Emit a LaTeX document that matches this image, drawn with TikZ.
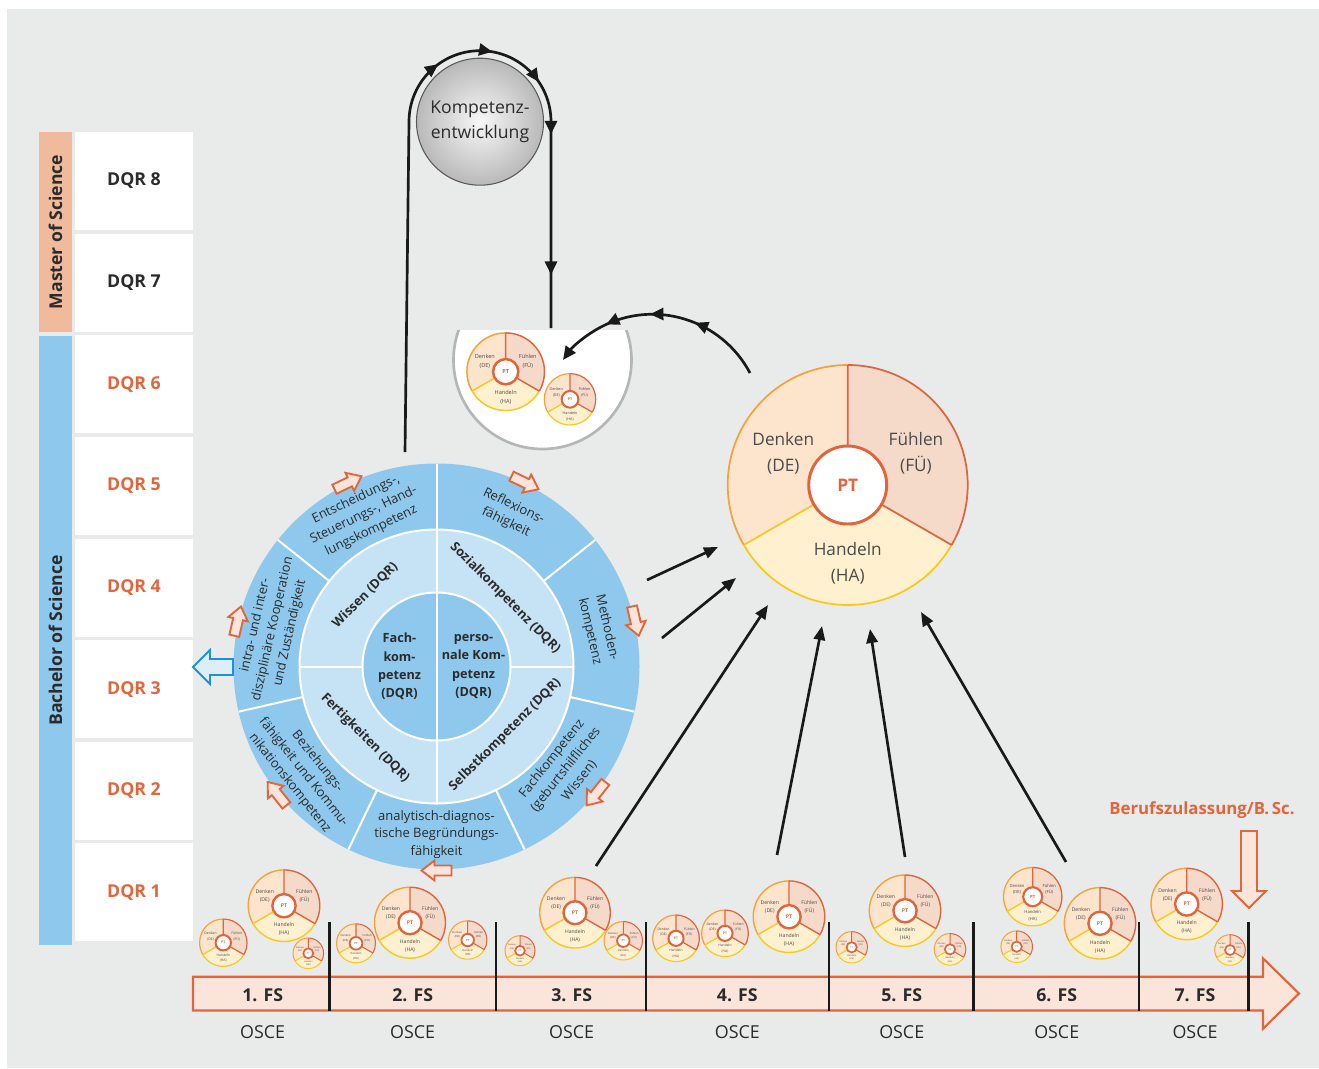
\documentclass[tikz,border=0pt]{standalone}
\usepackage{fontspec}
\setmainfont{Open Sans}
\usetikzlibrary{arrows.meta,decorations.markings,calc}

\definecolor{bggrey}{HTML}{E9EAEA}
\definecolor{ringblue}{HTML}{8EC9ED}
\definecolor{midblue}{HTML}{C6E3F6}
\definecolor{dqrorange}{HTML}{E2653C}
\definecolor{mastersalmon}{HTML}{F0BB9C}
\definecolor{denfill}{HTML}{FDE4CD}
\definecolor{fuefill}{HTML}{F5D9C9}
\definecolor{hafill}{HTML}{FFF0CF}
\definecolor{denline}{HTML}{F4A23A}
\definecolor{haline}{HTML}{F8C81E}
\definecolor{fueline}{HTML}{E0643C}
\definecolor{arrowpink}{HTML}{FBE4DA}
\definecolor{bluearrow}{HTML}{1A94D8}
\definecolor{bluefill}{HTML}{DDEEFA}
\definecolor{bowlgrey}{HTML}{B5B6B8}
\definecolor{textdark}{HTML}{2B2B2B}

\newcommand\hollowarr[7]{%
  \draw[#7, shift={(#1)}, rotate=#2] (-#3,-#4) -- ({#3-#6},-#4) -- ({#3-#6},-#5) -- (#3,0)
    -- ({#3-#6},#5) -- ({#3-#6},#4) -- (-#3,#4) -- cycle;}

\tikzset{
  pttext/.style={align=center, font=\fontsize{12.9}{20}\selectfont, text=textdark!85, transform shape, inner sep=0pt},
  pics/ptw/.style={code={
    \fill[denfill] (0,0) -- (-90:120) arc[start angle=-90,end angle=-210,radius=120] -- cycle;
    \fill[fuefill] (0,0) -- (-90:120) arc[start angle=-90,end angle=30,radius=120] -- cycle;
    \fill[hafill] (0,0) -- (30:120) arc[start angle=30,end angle=150,radius=120] -- cycle;
    \draw[denline,line width=#1] (-90:120) arc[start angle=-90,end angle=-210,radius=120];
    \draw[fueline,line width=#1] (-90:120) arc[start angle=-90,end angle=30,radius=120];
    \draw[haline,line width=#1] (30:120) arc[start angle=30,end angle=150,radius=120];
    \draw[fueline,line width=#1] (0,-39) -- (0,-120) (30:39) -- (30:120);
    \draw[haline,line width=#1] (150:39) -- (150:120);
    \draw[fueline,line width=1.7*#1,fill=white] (0,0) circle (39);
    \node[pttext] (-de) at (-64.4,-31.7) {Denken\\(DE)};
    \node[pttext] (-fu) at (68.3,-31.7) {Fühlen\\(FÜ)};
    \node[pttext] (-ha) at (0,78.3) {Handeln\\(HA)};
    \node[transform shape, inner sep=0pt, text=fueline, font=\bfseries\fontsize{13}{13}\selectfont] (-pt) at (0,0) {PT};
  }}
}

\begin{document}
\begin{tikzpicture}[x=0.75pt,y=-0.75pt,
  dqrbox/.style={fill=white, minimum width=88.5pt, minimum height=73.5pt, inner sep=0pt, font=\bfseries\fontsize{13.3}{16}\selectfont},
  levelbar/.style={minimum height=24.75pt, inner sep=0pt, font=\bfseries\fontsize{13.2}{16}\selectfont, text=textdark, rotate=90},
  ringtext/.style={align=center, font=\fontsize{9.75}{13.2}\selectfont, text=textdark, inner sep=0pt},
  midtext/.style={align=center, font=\bfseries\fontsize{9.7}{12}\selectfont, text=textdark, inner sep=0pt},
  coretext/.style={align=center, font=\bfseries\fontsize{9.5}{13.75}\selectfont, text=textdark, inner sep=0pt},
  fslabel/.style={font=\bfseries\fontsize{13.3}{16}\selectfont, text=textdark, inner sep=0pt},
  oscelabel/.style={font=\fontsize{13.4}{16}\selectfont, text=textdark, inner sep=0pt},
  blackarrow/.style={line width=2pt, draw=black!90, -{Triangle[length=10.5pt,width=8.5pt]}},
  loopline/.style={line width=2pt, draw=black!90},
  orangearrow/.style={draw=dqrorange, fill=arrowpink, line width=1.4pt},
  wheelline/.style={white, line width=1.5pt}
]
\useasboundingbox (0,0) rectangle (1319,1068);
\fill[white] (0,0) rectangle (1319,1068);
\fill[bggrey] (7,9) rectangle (1319,1068);

% ---------- left column ----------
\node[levelbar, fill=mastersalmon, minimum width=150pt] (msc) at (55.5,232) {Master of Science};
\node[levelbar, fill=ringblue, minimum width=456.75pt] (bsc) at (55.5,640.5) {Bachelor of Science};
\node[dqrbox, text=textdark] (d8) at (134,181) {DQR 8};
\node[dqrbox, text=textdark] (d7) at (134,282.6) {DQR 7};
\node[dqrbox, text=dqrorange] (d6) at (134,384.25) {DQR 6};
\node[dqrbox, text=dqrorange] (d5) at (134,485.9) {DQR 5};
\node[dqrbox, text=dqrorange] (d4) at (134,587.5) {DQR 4};
\node[dqrbox, text=dqrorange] (d3) at (134,689.1) {DQR 3};
\node[dqrbox, text=dqrorange] (d2) at (134,790.75) {DQR 2};
\node[dqrbox, text=dqrorange] (d1) at (134,892.4) {DQR 1};

% ---------- competence wheel ----------
\coordinate (W) at (436.5,666.5);
\fill[ringblue] (W) circle (203);
\fill[midblue] (W) circle (137);
\fill[ringblue] (W) circle (74);
\draw[wheelline] (W) circle (137) (W) circle (74);
\foreach \k in {0,...,6}{
  \pgfmathsetmacro\ang{90+51.4286*\k}
  \draw[wheelline] ($(W)+(-\ang:137)$) -- ($(W)+(-\ang:203)$);
}
\draw[wheelline] ($(W)+(0,-137)$) -- ($(W)+(0,137)$);
\draw[wheelline] ($(W)+(-137,0)$) -- ($(W)+(-74,0)$) ($(W)+(74,0)$) -- ($(W)+(137,0)$);

\node[ringtext, rotate=25.71] (rt1) at ($(W)+(-115.71:168)$) {Entscheidungs-,\\Steuerungs-, Hand-\\lungskompetenz};
\node[ringtext, rotate=77.14] (rt2) at ($(W)+(-167.14:168)$) {intra- und inter-\\disziplinäre Kooperation\\und Zuständigkeit};
\node[ringtext, rotate=-51.43] (rt3) at ($(W)+(-218.57:170)$) {Beziehungs-\\fähigkeit und Kommu-\\nikationskompetenz};
\node[ringtext] (rt4) at ($(W)+(-270:168)$) {analytisch-diagnos-\\tische Begründungs-\\fähigkeit};
\node[ringtext, rotate=51.43] (rt5) at ($(W)+(-321.43:165)$) {Fachkompetenz\\(geburtshilfliches\\Wissen)};
\node[ringtext, rotate=-77.14] (rt6) at ($(W)+(-12.86:166)$) {Methoden-\\kompetenz};
\node[ringtext, rotate=-25.71] (rt7) at ($(W)+(-64.29:169)$) {Reflexions-\\fähigkeit};

\node[midtext, rotate=45] (mt1) at ($(W)+(-135:101)$) {Wissen (DQR)};
\node[midtext, rotate=-45] (mt2) at ($(W)+(-45:97)$) {Sozialkompetenz (DQR)};
\node[midtext, rotate=-45] (mt3) at ($(W)+(-225:101)$) {Fertigkeiten (DQR)};
\node[midtext, rotate=45] (mt4) at ($(W)+(-315:97)$) {Selbstkompetenz (DQR)};

\node[coretext] (core1) at ($(W)+(-37,0)$) {Fach-\\kom-\\petenz\\(DQR)};
\node[coretext] (core2) at ($(W)+(37,0)$) {perso-\\nale Kom-\\petenz\\(DQR)};

\foreach \k in {0,...,6}{
  \pgfmathsetmacro\ang{115.714+51.4286*\k}
  \coordinate (wa\k) at ($(W)+(-\ang:204)$);
  \hollowarr{wa\k}{\ang-90}{15}{5}{10}{13}{orangearrow}
}
\coordinate (blueA) at (213,667);
\hollowarr{blueA}{180}{20}{8}{17}{17}{draw=bluearrow, fill=bluefill, line width=1.4pt}

% ---------- Kompetenzentwicklung loop ----------
\coordinate (loopstart) at (405,452);
\coordinate (loopend) at (551,328);
\draw[loopline,
  decoration={markings,
    mark=at position 0.523 with {\arrow{Triangle[length=10pt,width=9pt]}},
    mark=at position 0.598 with {\arrow{Triangle[length=10pt,width=9pt]}},
    mark=at position 0.673 with {\arrow{Triangle[length=10pt,width=9pt]}},
    mark=at position 0.745 with {\arrow{Triangle[length=10pt,width=9pt]}},
    mark=at position 0.93 with {\arrow{Triangle[length=10pt,width=9pt]}}},
  postaction={decorate}]
  (loopstart) -- (409,121.7) arc[start angle=180,end angle=360,radius=71] -- (loopend);
\node[circle, minimum size=95.25pt, inner sep=0pt, shading=radial, inner color=gray!6, outer color=gray!55,
  draw=black!65, line width=0.8pt, align=center, text=textdark,
  font=\fontsize{13.2}{19}\selectfont] (ball) at (480,121.7) {Kompetenz-\\entwicklung};

% ---------- bowl ----------
\begin{scope}
  \clip (420,330) rectangle (680,470);
  \draw[bowlgrey, line width=2pt, fill=white] (542.5,360) circle (89);
\end{scope}
\pic[scale=38.8/120] (bowlA) at (505.7,371.7) {ptw=1.1pt};
\pic[scale=25.7/120] (bowlB) at (570,399.3) {ptw=0.9pt};

\coordinate (arcstart) at (750,373);
\draw[loopline, -{Triangle[length=10pt,width=9pt]},
  decoration={markings,
    mark=at position 0.34 with {\arrow{Triangle[length=10pt,width=9pt]}},
    mark=at position 0.545 with {\arrow{Triangle[length=10pt,width=9pt]}},
    mark=at position 0.748 with {\arrow{Triangle[length=10pt,width=9pt]}}},
  postaction={decorate}]
  (arcstart) arc[start angle=-27.9,end angle=-144.1,radius=110.4];

% ---------- big PT wheel ----------
\pic (bigpt) at (847.7,485) {ptw=1.3pt};

% ---------- black arrows ----------
\coordinate (s1) at (647,580);  \coordinate (e1) at (718,547);
\coordinate (s2) at (662,638);  \coordinate (e2) at (736,578);
\coordinate (s3) at (596,866);  \coordinate (e3) at (768,605);
\coordinate (s4) at (777,855);  \coordinate (e4) at (822,626);
\coordinate (s5) at (905,857);  \coordinate (e5) at (870,629);
\coordinate (s6) at (1066,862); \coordinate (e6) at (921,612);
\foreach \i in {1,...,6}{ \draw[blackarrow] (s\i) -- (e\i); }

% ---------- timeline ----------
\draw[dqrorange, line width=1.6pt, fill=arrowpink]
  (193,976.7) -- (1263,976.7) -- (1263,958.3) -- (1299,993.5) -- (1263,1028.7) -- (1263,1010.5) -- (193,1010.5) -- cycle;
\foreach \x in {329.5,496,646,829,973.5,1139,1248.5}{
  \draw[black!90, line width=1.7pt] (\x,922) -- (\x,1010.5);
}
\foreach \n/\x in {1/262.7,2/412.7,3/571.7,4/737.3,5/901.7,6/1056.7,7/1195}{
  \node[fslabel] (fs\n) at (\x,995) {\n. FS};
  \node[oscelabel] (osce\n) at (\x,1032) {OSCE};
}
\node[font=\bfseries\fontsize{12.6}{15}\selectfont, text=dqrorange, inner sep=0pt] (beruf) at (1202,810) {Berufszulassung/B.\,Sc.};
\coordinate (berufA) at (1249,869.5);
\hollowarr{berufA}{-90}{38.5}{8}{17}{17}{orangearrow}

% ---------- small PT wheels ----------
\foreach \x/\y/\r/\w in {
  223.3/942.7/23.7/0.9pt, 284/905.7/35.8/1.05pt, 308.3/953.3/15.3/0.75pt,
  356/943.3/19.5/0.8pt, 410/922.7/35.5/1.05pt, 467.7/940/19.2/0.8pt, 520/950.7/15/0.75pt,
  575/912.7/35.3/1.05pt, 623.3/940.7/19.2/0.8pt, 676/938.3/23.3/0.9pt, 725/933.3/23.3/0.9pt,
  789/916.7/35.8/1.05pt, 851.7/947.3/15.7/0.75pt, 905/910.7/35.7/1.05pt, 950/949.3/15.8/0.75pt,
  1032.7/896.7/29.2/0.95pt, 1016.7/946.7/15.8/0.75pt, 1100/923.3/35.7/1.05pt,
  1186.7/904/35.7/1.05pt, 1230/950/15.3/0.75pt}{
  \pic[scale=\r/120] at (\x,\y) {ptw=\w};
}
\end{tikzpicture}
\end{document}
